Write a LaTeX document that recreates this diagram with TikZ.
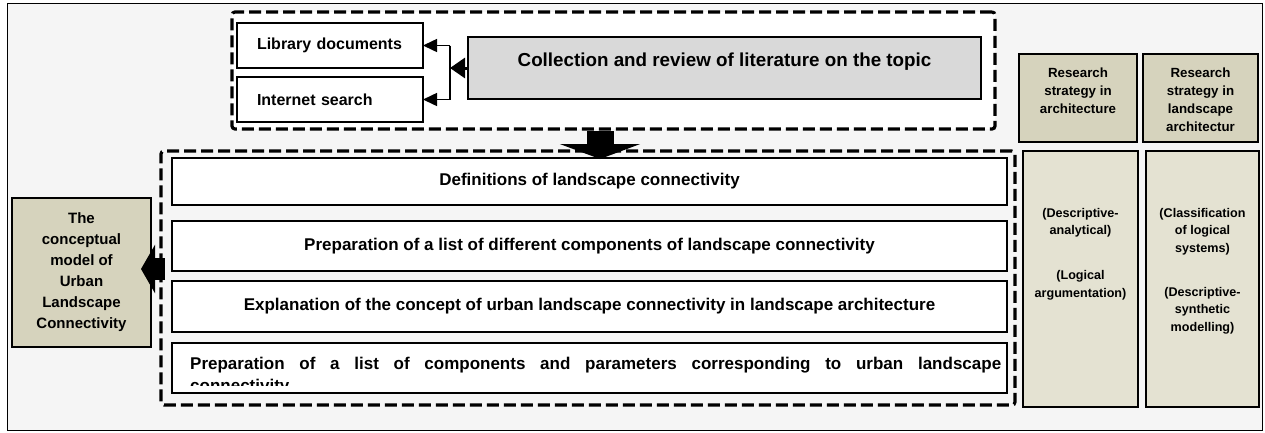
\documentclass[tikz,border=0pt]{standalone}
\usepackage{fontspec}
\setmainfont{Liberation Sans}
\usetikzlibrary{arrows.meta,positioning,calc}

\definecolor{paper}{HTML}{F5F5F5}
\definecolor{greybox}{HTML}{D9D9D9}
\definecolor{khaki}{HTML}{D6D3BD}
\definecolor{khakilight}{HTML}{E4E2D2}

\begin{document}
\begin{tikzpicture}[
    x=1pt, y=-1pt,
    item/.style={rectangle, draw, line width=1.4pt, fill=white, anchor=north west, inner sep=0pt, outer sep=0pt, font=\fontsize{17}{20}\selectfont\bfseries},
    source/.style={item, inner xsep=20pt, text width=146pt, align=left, minimum height=45pt, font=\fontsize{16}{19}\selectfont\bfseries},
    group/.style={rectangle, draw, line width=3.2pt, dash pattern=on 12pt off 5pt, rounded corners=3pt, anchor=north west, inner sep=0pt, outer sep=0pt},
    strategy/.style={item, fill=khaki, minimum width=118pt, minimum height=88pt},
    method/.style={item, fill=khakilight, minimum width=115pt, minimum height=256pt},
    stratlabel/.style={anchor=north, inner sep=0pt, align=center, font=\fontsize{13.3}{18}\selectfont\bfseries},
    methlabel/.style={anchor=north, inner sep=0pt, align=center, font=\fontsize{12.6}{17.5}\selectfont\bfseries},
    arrow/.style={-{Triangle[length=14pt,width=13pt]}, line width=1.5pt},
    blockarrow/.style={-{Triangle[length=15pt,width=20pt]}, line width=3pt}
]

% Page and frame
\fill[white] (0,0) rectangle (1265,432);
\draw[line width=1pt, fill=paper] (7,3) rectangle (1262,430);

% Literature search
\node[group, fill=white, minimum width=763pt, minimum height=117pt] (litgroup) at (232,12) {};
\node[source] (library) at (237,23) {Library documents};
\node[source] (internet) at (237,77) {Internet search};
\node[item, fill=greybox, minimum width=513pt, minimum height=62pt, text height=13pt, text depth=16pt,
      font=\fontsize{18.8}{22}\selectfont\bfseries] (collect) at (468,37) {Collection and review of literature on the topic};

\coordinate (fork) at (450,70);
\draw[blockarrow] (collect.west) -- (collect.west -| fork);
\draw[line width=1.5pt] (library.east -| fork) -- (internet.east -| fork);
\draw[arrow] (library.east -| fork) -- (library.east);
\draw[arrow] (internet.east -| fork) -- (internet.east);

% Study steps
\node[group, minimum width=854pt, minimum height=254pt] (stepgroup) at (161,151) {};
\node[item, minimum width=835pt, minimum height=47pt] (defs) at (172,158) {Definitions of landscape connectivity};
\node[item, minimum width=835pt, minimum height=50pt] (components) at (172,221) {Preparation of a list of different components of landscape connectivity};
\node[item, minimum width=835pt, minimum height=51pt] (concept) at (172,281) {Explanation of the concept of urban landscape connectivity in landscape architecture};
\node[item, minimum width=835pt, minimum height=50pt] (params) at (172,343) {};
\begin{scope}
  \clip (params.north west) rectangle ([yshift=8pt]params.south east);
  \node[anchor=base west, inner sep=0pt, text width=811pt, align=justify,
        font=\fontsize{17}{22.5}\selectfont\bfseries] (paramstext) at (190,369)
        {Preparation of a list of components and parameters corresponding to urban landscape\linebreak connectivity};
\end{scope}

% Flow between the groups
\coordinate (drop) at (600,0);
\draw[-{Triangle[length=15pt,width=80pt]}, line width=27pt, shorten <=2pt, shorten >=-8pt]
    (litgroup.south -| drop) -- (stepgroup.north -| drop);

% Resulting model
\node[item, fill=khaki, minimum width=139pt, minimum height=149pt, align=center,
      font=\fontsize{15}{21}\selectfont\bfseries] (model) at (12,198)
      {The\\conceptual\\model of\\Urban\\Landscape\\Connectivity};
\draw[-{Triangle[length=14pt,width=48pt]}, line width=22pt, shorten <=-4pt, shorten >=-10pt]
    ([yshift=9pt]stepgroup.west) -- ([yshift=9pt]stepgroup.west -| model.east);

% Research strategies
\node[strategy, label={[stratlabel, yshift=-14pt]north:{Research\\strategy in\\architecture}}] (archstrat) at (1019,54) {};
\node[strategy, minimum width=115pt, label={[stratlabel, yshift=-14pt]north:{Research\\strategy in\\landscape\\architectur}}] (landstrat) at (1143,54) {};
\node[method, label={[methlabel, yshift=-57pt]north:{(Descriptive-\\analytical)\\[27.5pt](Logical\\argumentation)}}] (archmeth) at (1023,151) {};
\node[method, minimum width=113pt, label={[methlabel, yshift=-57pt]north:{(Classification\\of logical\\systems)\\[26.5pt](Descriptive-\\synthetic\\modelling)}}] (landmeth) at (1146,151) {};

\end{tikzpicture}
\end{document}
